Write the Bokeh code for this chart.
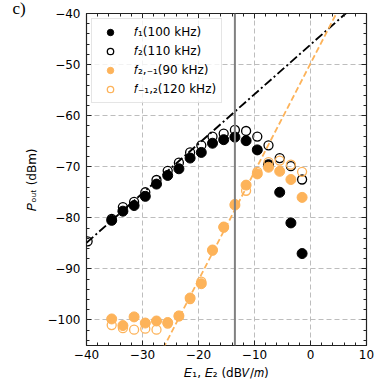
from bokeh.plotting import figure
from bokeh.models import (LinearAxis, FixedTicker, CustomJSTickFormatter, Legend,
                          LegendItem, Span)
from bokeh.embed import file_html
from bokeh.resources import INLINE

# ---- data ----
E = [-35.5, -33.5, -31.5, -29.5, -27.5, -25.5, -23.5, -21.5, -19.5, -17.5,
     -15.5, -13.5, -11.5, -9.5, -7.5, -5.5, -3.5, -1.5]
f1_100k = [-80.5, -78.7, -77.6, -75.8, -73.4, -71.7, -70.4, -68.3, -67.2, -65.4,
           -64.7, -64.2, -64.9, -66.7, -69.6, -75.0, -81.0, -87.0]
E_f2 = [-39.8] + E
f2_110k = [-84.6, -80.2, -77.9, -76.9, -75.0, -72.6, -70.8, -69.2, -67.2, -65.8,
           -64.1, -63.5, -62.8, -63.0, -64.1, -65.8, -68.3, -69.9, -72.5]
f21_90k = [-99.8, -101.1, -99.4, -100.6, -100.2, -100.5, -99.2, -95.7, -92.9, -86.3,
           -81.8, -77.5, -73.6, -71.4, -70.1, -70.9, -72.5, -76.0]
f12_120k = [-101.0, -101.6, -101.9, -101.7, -101.9, -100.7, -99.3, -95.9, -92.5, -86.4,
            -81.9, -77.3, -74.7, -71.0, -69.1, -68.8, -69.6, -71.0]

# linear fits (slope, anchor point)
lin_x = [-40.0, 10.0]
lin_slope, lin_x0, lin_y0 = 0.97, -40.0, -84.9
im_x = [-30.0, 10.0]
im_slope, im_x0, im_y0 = 2.12, -0.1, -50.0
threshold_E = -13.5

x_major = [-40, -30, -20, -10, 0, 10]
y_major = [-100, -90, -80, -70, -60, -50, -40]
x_minor = list(range(-40, 11, 2))
y_minor = list(range(-104, -39, 2))

legend_labels = ["\U0001D453\u2081(100 kHz)", "\U0001D453\u2082(110 kHz)",
                 "\U0001D453\u2082,\u208b\u2081(90 kHz)", "\U0001D453\u208b\u2081,\u2082(120 kHz)"]
x_label = "\U0001D438\u2081, \U0001D438\u2082 (dB\U0001D449/\U0001D45A)"
y_label = "\U0001D443\u2092\u1d64\u209c (dBm)"
panel_tag = "c)"

ORANGE = "#FDB35A"
FONT = "DejaVu Sans"

p = figure(width=382, height=388, x_range=(-40, 10), y_range=(-105, -40),
           output_backend="svg", toolbar_location=None, title=panel_tag,
           min_border_left=86, min_border_right=16, min_border_top=13, min_border_bottom=43)
p.title.align = "left"
p.title.offset = -74
p.title.standoff = -12
p.title.vertical_align = "top"
p.title.text_font = "Liberation Serif"
p.title.text_font_size = "17px"
p.title.text_font_style = "normal"
p.title.text_color = "black"
p.outline_line_color = "#222222"
p.outline_line_width = 1.2
p.background_fill_color = "white"

xt = FixedTicker(ticks=x_major, minor_ticks=x_minor)
yt = FixedTicker(ticks=y_major, minor_ticks=y_minor)
p.xaxis.ticker = xt
p.yaxis.ticker = yt
p.xgrid.ticker = xt
p.ygrid.ticker = yt
for g in (p.xgrid, p.ygrid):
    g.grid_line_color = "#bdbdbd"
    g.grid_line_dash = "5 3"
    g.grid_line_width = 1

p.yaxis.formatter = CustomJSTickFormatter(
    code="return (tick < 0 ? '\u2212' : '') + Math.abs(tick).toFixed(0);")

def style_axis(ax):
    ax.major_tick_in = 5
    ax.major_tick_out = 0
    ax.minor_tick_in = 3
    ax.minor_tick_out = 0
    ax.axis_line_color = None
    ax.major_tick_line_color = "#222222"
    ax.minor_tick_line_color = "#222222"
    ax.major_label_text_font = FONT
    ax.major_label_text_font_size = "12px"
    ax.major_label_text_color = "black"
    ax.axis_label_text_font = FONT
    ax.axis_label_text_font_size = "12px"
    ax.axis_label_text_color = "black"
    ax.axis_label_text_font_style = "normal"

style_axis(p.xaxis[0])
style_axis(p.yaxis[0])
p.xaxis[0].major_label_standoff = 4
p.yaxis[0].major_label_standoff = 6
p.xaxis[0].axis_label = x_label
p.yaxis[0].axis_label = y_label
p.xaxis[0].axis_label_standoff = 4
p.yaxis[0].axis_label_standoff = 6

empty = CustomJSTickFormatter(code="return '';")
top = LinearAxis(ticker=xt, formatter=empty)
right = LinearAxis(ticker=yt, formatter=empty)
for ax in (top, right):
    style_axis(ax)
    ax.major_label_standoff = 0
    ax.major_label_text_font_size = "0px"
p.add_layout(top, "above")
p.add_layout(right, "right")

r1 = p.scatter(E, f1_100k, size=10, fill_color="black", line_color="black")
r2 = p.scatter(E_f2, f2_110k, size=9, fill_color=None, line_color="black", line_width=1.3)
r3 = p.scatter(E, f21_90k, size=10, fill_color=ORANGE, line_color=ORANGE)
r4 = p.scatter(E, f12_120k, size=9, fill_color=None, line_color=ORANGE, line_width=1.3)

lin_y = [lin_y0 + lin_slope * (x - lin_x0) for x in lin_x]
im_y = [im_y0 + im_slope * (x - im_x0) for x in im_x]
p.line(lin_x, lin_y, line_color="black", line_width=1.9, line_dash="9 3 2 3")
p.line(im_x, im_y, line_color=ORANGE, line_width=1.8, line_dash="6 3")

p.add_layout(Span(location=threshold_E, dimension="height", line_color="#808080", line_width=2))

legend = Legend(items=[LegendItem(label=l, renderers=[r]) for l, r in
                       zip(legend_labels, [r1, r2, r3, r4])],
                location="top_left")
legend.margin = 5
legend.padding = 5
legend.spacing = 3
legend.glyph_width = 26
legend.glyph_height = 16
legend.label_height = 16
legend.label_standoff = 11
legend.label_text_font = FONT
legend.label_text_font_size = "12px"
legend.label_text_color = "black"
legend.border_line_color = "#cccccc"
legend.border_line_width = 1
legend.background_fill_alpha = 0.8
p.add_layout(legend)

open("out.html", "w").write(file_html(p, INLINE))
